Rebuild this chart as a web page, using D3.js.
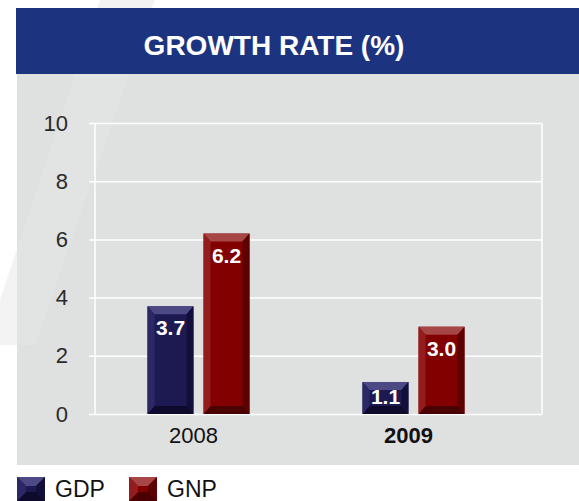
<!DOCTYPE html>
<html>
<head>
<meta charset="utf-8">
<script src="https://cdnjs.cloudflare.com/ajax/libs/d3/7.8.5/d3.min.js"></script>
<style>
  body { margin: 0; background: #fff; }
  svg { display: block; font-family: "Liberation Sans", Arial, sans-serif; }
</style>
</head>
<body>
<div id="chart"></div>
<script>
var width = 579, height = 501;
var margins = {left: 95, right: 37, top: 123, bottom: 87};

// data
var years = ["2008", "2009"];
var series = ["GDP", "GNP"];
var gdp = [3.7, 1.1];
var gnp = [6.2, 3.0];
var yTicks = [0, 2, 4, 6, 8, 10];
var title = "GROWTH RATE (%)";

var colors = {
    GDP: {face: "#1d1a52", top: "#4d4985", left: "#2c2866", right: "#130f3b", bottom: "#0d0a2b"},
    GNP: {face: "#830000", top: "#a64646", left: "#951c1c", right: "#5c0000", bottom: "#4a0000"}
};

var rows = [];
years.forEach(function(y, i) {
    rows.push({year: y, key: "GDP", value: gdp[i]});
    rows.push({year: y, key: "GNP", value: gnp[i]});
});

var svg = d3.select("#chart").append("svg")
    .attr("width", width)
    .attr("height", height);

// faint watermark band on the left
var band = [[100, 0], [155, 0], [35, 345], [0, 345], [0, 300]].join(" ");
svg.append("polygon").attr("points", band).attr("fill", "#f3f3f3");

// panels
svg.append("rect").attr("x", 17).attr("y", 74).attr("width", width - 17).attr("height", 391).attr("fill", "#dfe0e0");
svg.append("clipPath").attr("id", "panelclip").append("rect")
    .attr("x", 17).attr("y", 74).attr("width", width - 17).attr("height", 391);
svg.append("polygon").attr("points", band).attr("fill", "#fff").attr("opacity", 0.1)
    .attr("clip-path", "url(#panelclip)");

svg.append("rect").attr("x", 16).attr("y", 8).attr("width", width - 16).attr("height", 66).attr("fill", "#1c3380");
svg.append("text")
    .attr("x", 274).attr("y", 55)
    .attr("text-anchor", "middle")
    .attr("fill", "#fff")
    .style("font-size", "28px")
    .attr("font-weight", "bold")
    .text(title);

var yScale = d3.scaleLinear().domain([0, 10]).range([height - margins.bottom, margins.top]);
var xScale = d3.scaleBand().domain(years).range([91, 521]);
var inner = d3.scaleBand().domain(series).range([0, 102]).paddingInner(0.18);

// grid
var yAxis = d3.axisLeft(yScale).tickValues(yTicks).tickSize(-(width - margins.right - margins.left) - 6).tickPadding(21);
var gy = svg.append("g")
    .attr("transform", "translate(" + (margins.left - 6) + ",0)")
    .call(yAxis);
gy.select(".domain").remove();
gy.selectAll(".tick line").attr("stroke", "#fff").attr("stroke-width", 1.5);
gy.selectAll(".tick text")
    .style("font-size", "22px")
    .style("font-family", "'Liberation Sans', Arial, sans-serif")
    .attr("fill", "#2a2a2a");

svg.append("line")
    .attr("x1", margins.left).attr("x2", margins.left)
    .attr("y1", yScale(10)).attr("y2", yScale(0))
    .attr("stroke", "#fff").attr("stroke-width", 1.5);
svg.append("line")
    .attr("x1", width - margins.right).attr("x2", width - margins.right)
    .attr("y1", yScale(10)).attr("y2", yScale(0))
    .attr("stroke", "#fff").attr("stroke-width", 1.5);

// bevelled box
function bevel(g, x, y, w, h, c, b, bv) {
    var bb = Math.min(bv, h / 2);
    g.append("rect").attr("x", x).attr("y", y).attr("width", w).attr("height", h).attr("fill", c.face);
    g.append("polygon").attr("fill", c.top)
        .attr("points", [[x, y], [x + w, y], [x + w - b, y + bb], [x + b, y + bb]].join(" "));
    g.append("polygon").attr("fill", c.bottom)
        .attr("points", [[x, y + h], [x + w, y + h], [x + w - b, y + h - bb], [x + b, y + h - bb]].join(" "));
    g.append("polygon").attr("fill", c.left)
        .attr("points", [[x, y], [x + b, y + bb], [x + b, y + h - bb], [x, y + h]].join(" "));
    g.append("polygon").attr("fill", c.right)
        .attr("points", [[x + w, y], [x + w - b, y + bb], [x + w - b, y + h - bb], [x + w, y + h]].join(" "));
}

var bars = svg.append("g");
rows.forEach(function(d) {
    var x = xScale(d.year) + (xScale.bandwidth() - 102) / 2 + inner(d.key);
    var y = yScale(d.value);
    var h = yScale(0) - y;
    bevel(bars, x, y, inner.bandwidth(), h, colors[d.key], 7, 8);
    bars.append("text")
        .attr("x", x + inner.bandwidth() / 2)
        .attr("y", Math.min(y + 29, yScale(0) - 10))
        .attr("text-anchor", "middle")
        .attr("fill", "#fff")
        .style("font-size", "21px")
        .attr("font-weight", "bold")
        .text(d.value.toFixed(1));
});

// x labels
svg.selectAll(".xlab")
    .data(years)
    .enter()
    .append("text")
    .attr("x", function(d) { return xScale(d) + xScale.bandwidth() / 2 - 5; })
    .attr("y", 443)
    .attr("text-anchor", "middle")
    .style("font-size", "22px")
    .attr("fill", "#111")
    .attr("font-weight", function(d, i) { return i == 1 ? "bold" : "normal"; })
    .text(function(d) { return d; });

// legend
var legendX = [17, 129];
series.forEach(function(s, i) {
    var lg = svg.append("g");
    bevel(lg, legendX[i], 477, 28, 24, colors[s], 9, 9);
    lg.append("text")
        .attr("x", legendX[i] + 38)
        .attr("y", 497)
        .style("font-size", "23px")
        .attr("fill", "#111")
        .text(s);
});
</script>
</body>
</html>
